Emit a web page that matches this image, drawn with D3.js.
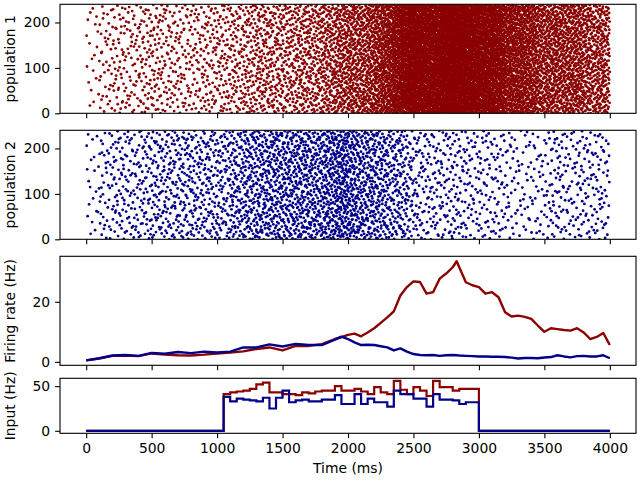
<!DOCTYPE html>
<html>
<head>
<meta charset="utf-8">
<script src="https://cdn.jsdelivr.net/npm/d3@7"></script>
<style>
  body { margin: 0; background: #fff; }
  svg { display: block; font-family: "DejaVu Sans", sans-serif; }
</style>
</head>
<body>
<div id="chart"></div>
<script>
// ---- values ----
const nNeurons = 240;
const timeTicks = [0, 500, 1000, 1500, 2000, 2500, 3000, 3500, 4000];
const rasterTicks = [0, 100, 200];
const rateTicks = [0, 20];
const inputTicks = [0, 50];

// population firing rates (Hz)
const rateTimes = [0, 100, 200, 300, 400, 500, 600, 700, 800, 900, 1000, 1100, 1200, 1300, 1400, 1500,
  1600, 1700, 1800, 1900, 1950, 2000, 2050, 2100, 2150, 2200, 2250, 2300, 2350, 2400, 2450, 2500,
  2550, 2600, 2650, 2700, 2750, 2800, 2830, 2850, 2900, 2950, 3000, 3050, 3100, 3150, 3200, 3250,
  3300, 3350, 3400, 3450, 3500, 3550, 3600, 3650, 3700, 3750, 3800, 3850, 3900, 3950, 4000];
const rate1 = [0.5, 1.1, 2.0, 2.1, 1.9, 2.8, 2.4, 2.2, 2.1, 2.4, 2.8, 3.1, 3.5, 4.3, 4.8, 3.8,
  5.3, 5.3, 5.9, 7.6, 8.2, 9.0, 9.4, 8.5, 9.8, 11.2, 13.0, 14.8, 16.8, 22.1, 24.9, 26.8,
  26.6, 22.7, 23.2, 27.7, 29.4, 31.5, 33.5, 31.5, 26.5, 25.5, 24.9, 22.7, 23.2, 21.5, 16.5, 15.1,
  15.4, 15.0, 14.3, 12.1, 10.0, 11.2, 10.9, 10.6, 10.4, 11.2, 9.8, 7.6, 8.3, 9.6, 5.6];
const rate2 = [0.5, 1.2, 2.1, 2.3, 2.0, 3.0, 2.7, 3.3, 2.9, 3.4, 3.1, 3.4, 4.8, 4.8, 5.8, 5.1,
  6.0, 5.6, 5.6, 7.4, 8.4, 7.6, 6.5, 5.6, 5.7, 5.6, 5.2, 4.8, 3.8, 4.5, 3.4, 2.6,
  2.3, 2.2, 2.3, 2.0, 2.2, 2.3, 2.2, 2.1, 2.0, 1.9, 1.8, 1.8, 1.7, 1.7, 1.6, 1.4,
  1.1, 1.3, 1.3, 1.2, 1.45, 1.6, 2.2, 1.8, 1.5, 1.9, 2.0, 1.8, 1.8, 2.2, 1.2];

// external input (Hz), 50 ms steps between 1050 and 3000 ms, zero elsewhere
const inputTimes = [0, 1050, 1100, 1150, 1200, 1250, 1300, 1350, 1400, 1450, 1500, 1550, 1600, 1650,
  1700, 1750, 1800, 1850, 1900, 1950, 2000, 2050, 2100, 2150, 2200, 2250, 2300, 2350, 2400,
  2450, 2500, 2550, 2600, 2650, 2700, 2750, 2800, 2850, 2900, 2950, 3000, 4000];
const input1 = [0, 41, 43, 44, 45, 47, 52, 54, 43, 43, 41, 41, 40, 43, 42, 44, 45, 45, 50, 45,
  45, 47, 44, 41, 49, 43, 41, 56, 46, 41, 49, 45, 39, 56, 49, 49, 45, 47, 47, 47, 0, 0];
const input2 = [0, 38, 33, 36, 35, 34, 33, 37, 25, 37, 45, 32, 34, 35, 33, 33, 35, 35, 40, 30,
  30, 41, 30, 36, 32, 32, 27, 45, 41, 41, 36, 36, 27, 41, 35, 35, 34, 30, 32, 32, 0, 0];

const red = "#8b0000", blue = "#00008b";

// ---- layout ----
const width = 640, height = 480;
const left = 60, right = 636;
const panels = [
  { top: 4.3, bottom: 113.3, label: "population 1" },
  { top: 130.3, bottom: 239.3, label: "population 2" },
  { top: 256.3, bottom: 365.3, label: "Firing rate (Hz)" },
  { top: 378.3, bottom: 433.3, label: "Input (Hz)" }
];
const fontSize = 13.9, tick = 4.9;

const svg = d3.select("#chart").append("svg")
  .attr("width", width).attr("height", height);

const x = d3.scaleLinear().domain([-200, 4200]).range([left, right]);

// matplotlib-like 5% margins
function padded(vals) {
  const [lo, hi] = d3.extent(vals);
  const m = (hi - lo) * 0.05;
  return [lo - m, hi + m];
}

const yScales = [
  d3.scaleLinear().domain([0, nNeurons]).range([panels[0].bottom, panels[0].top]),
  d3.scaleLinear().domain([0, nNeurons]).range([panels[1].bottom, panels[1].top]),
  d3.scaleLinear().domain(padded(rate1.concat(rate2))).range([panels[2].bottom, panels[2].top]),
  d3.scaleLinear().domain(padded(input1.concat(input2))).range([panels[3].bottom, panels[3].top])
];
const yTicks = [rasterTicks, rasterTicks, rateTicks, inputTicks];

// clip paths per panel
const defs = svg.append("defs");
panels.forEach((p, i) => {
  defs.append("clipPath").attr("id", "clip" + i)
    .append("rect")
    .attr("x", left).attr("y", p.top)
    .attr("width", right - left).attr("height", p.bottom - p.top);
});

// raster dots: density follows the rate curve read above,
// spikes placed with a deterministic Halton sequence (no random numbers)
function halton(i, b) {
  let f = 1, r = 0;
  while (i > 0) { f /= b; r += f * (i % b); i = Math.floor(i / b); }
  return r;
}
function rasterPoints(rate) {
  const cum = [0];
  for (let i = 1; i < rateTimes.length; i++) {
    cum.push(cum[i - 1] + (rate[i - 1] + rate[i]) / 2 * (rateTimes[i] - rateTimes[i - 1]) / 1000 * nNeurons);
  }
  const total = cum[cum.length - 1];
  const n = Math.round(total);
  const pts = [];
  for (let j = 1; j <= n; j++) {
    const target = halton(j, 2) * total;
    let k = d3.bisectRight(cum, target) - 1;
    k = Math.min(Math.max(k, 0), cum.length - 2);
    const frac = (target - cum[k]) / (cum[k + 1] - cum[k]);
    const t = rateTimes[k] + frac * (rateTimes[k + 1] - rateTimes[k]);
    const neuron = Math.floor(halton(j, 3) * nNeurons);
    pts.push([t, neuron]);
  }
  return pts;
}

[[rate1, red], [rate2, blue]].forEach(([rate, color], i) => {
  svg.append("g").attr("clip-path", `url(#clip${i})`)
    .selectAll("circle")
    .data(rasterPoints(rate))
    .join("circle")
    .attr("cx", d => x(d[0]))
    .attr("cy", d => yScales[i](d[1]))
    .attr("r", 1.4)
    .attr("fill", color);
});

// firing rate lines
const rateLine = d3.line()
  .x((d, i) => x(rateTimes[i]))
  .y(d => yScales[2](d));
[[rate1, red], [rate2, blue]].forEach(([rate, color]) => {
  svg.append("path")
    .attr("clip-path", "url(#clip2)")
    .attr("d", rateLine(rate))
    .attr("fill", "none")
    .attr("stroke", color)
    .attr("stroke-width", 2.4)
    .attr("stroke-linejoin", "round");
});

// input step lines
const inputLine = d3.line()
  .x((d, i) => x(inputTimes[i]))
  .y(d => yScales[3](d))
  .curve(d3.curveStepAfter);
[[input1, red], [input2, blue]].forEach(([vals, color]) => {
  svg.append("path")
    .attr("clip-path", "url(#clip3)")
    .attr("d", inputLine(vals))
    .attr("fill", "none")
    .attr("stroke", color)
    .attr("stroke-width", 2.2);
});

// axes and frames
panels.forEach((p, i) => {
  const isLast = i === panels.length - 1;
  const gx = svg.append("g")
    .attr("transform", `translate(0,${p.bottom})`)
    .call(d3.axisBottom(x).tickValues(timeTicks).tickSize(tick).tickPadding(tick)
      .tickFormat(isLast ? d3.format("d") : ""));
  const gy = svg.append("g")
    .attr("transform", `translate(${left},0)`)
    .call(d3.axisLeft(yScales[i]).tickValues(yTicks[i]).tickSize(tick).tickPadding(tick)
      .tickFormat(d3.format("d")));
  [gx, gy].forEach(g => {
    g.select(".domain").remove();
    g.attr("font-family", null).attr("font-size", null);
    g.selectAll(".tick line").attr("stroke", "#000").attr("stroke-width", 1.1);
    g.selectAll(".tick text").attr("fill", "#000").style("font-size", fontSize + "px");
  });

  svg.append("rect")
    .attr("x", left).attr("y", p.top)
    .attr("width", right - left).attr("height", p.bottom - p.top)
    .attr("fill", "none").attr("stroke", "#000").attr("stroke-width", 1.1);

  svg.append("text")
    .attr("transform", `translate(14.5,${(p.top + p.bottom) / 2}) rotate(-90)`)
    .attr("text-anchor", "middle")
    .style("font-size", fontSize + "px")
    .text(p.label);
});

svg.append("text")
  .attr("x", (left + right) / 2)
  .attr("y", 473)
  .attr("text-anchor", "middle")
  .style("font-size", fontSize + "px")
  .text("Time (ms)");
</script>
</body>
</html>
